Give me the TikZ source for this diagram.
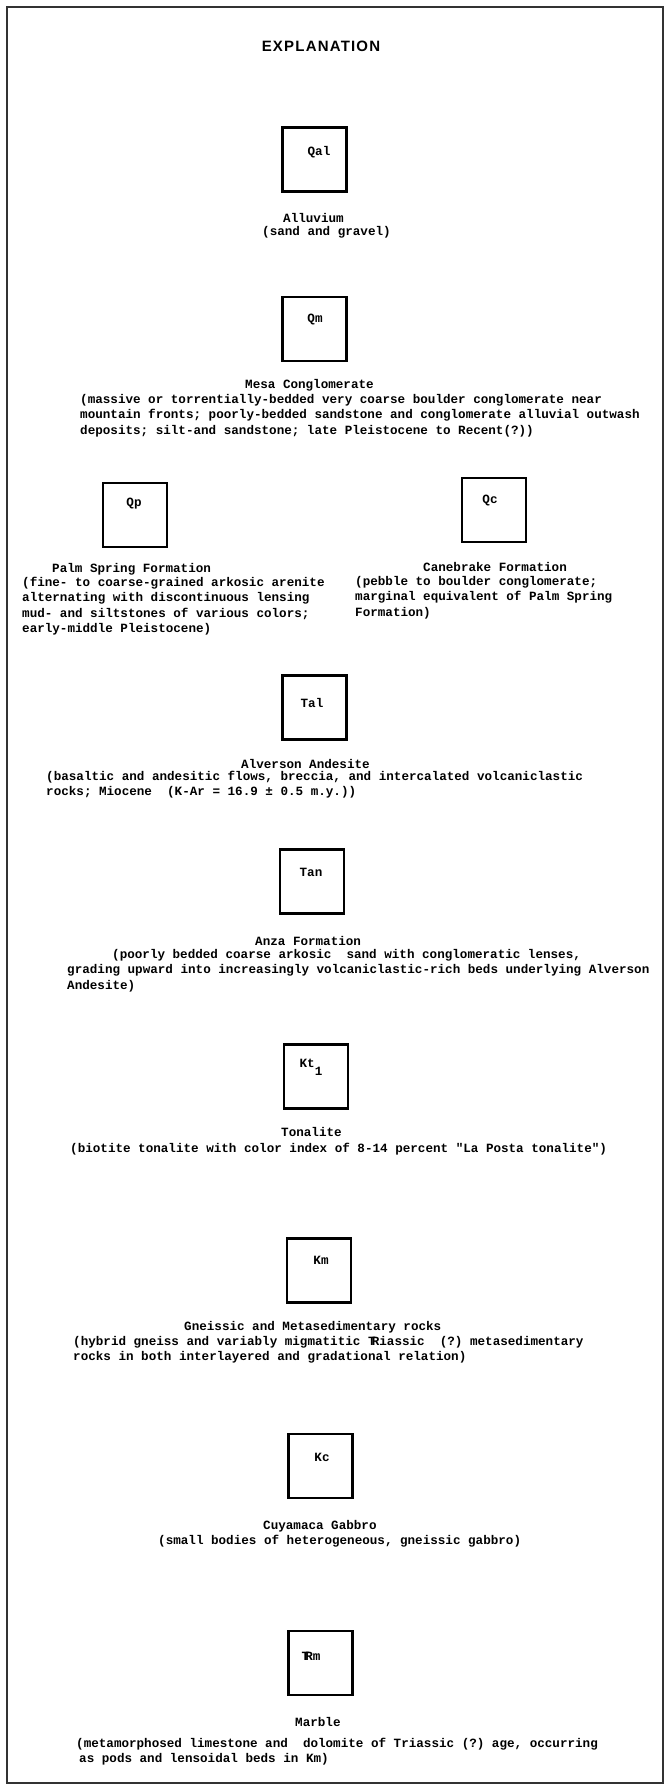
\documentclass[tikz,border=0pt]{standalone}
\usepackage{fontspec}
\usepackage{tikz}
\setmonofont{Liberation Mono}
\newfontfamily\headfont[LetterSpace=8]{Liberation Sans}
\newcommand{\TRsym}{T\kern-0.3em R}

\begin{document}
\begin{tikzpicture}[x=1pt,y=-1pt,
    unitbox/.style={draw, line width=2.4pt, minimum width=64pt, minimum height=64pt, inner sep=0pt},
    unitlabel/.style={anchor=base, font=\fontsize{12.6}{15.4}\selectfont\ttfamily\bfseries, inner sep=0pt},
    unitname/.style={anchor=west, font=\fontsize{12.6}{15.4}\selectfont\ttfamily\bfseries, inner sep=0pt},
    unitdesc/.style={anchor=north west, align=left, font=\fontsize{12.6}{15.4}\selectfont\ttfamily\bfseries, inner sep=0pt}]
      \useasboundingbox (0,0) rectangle (670,1791);
      \draw[line width=1.6pt, black!80] (7,7) rectangle (663,1783);

      \node (title) at (321,46) {\headfont\bfseries\fontsize{15}{18}\selectfont EXPLANATION};

      % Quaternary
      \node[unitbox] (qal) at (314.5,159.5) {};
      \node[unitlabel] (qallab) at (319,155) {Qal};
      \node[unitname] (qalname) at (283,218) {Alluvium};
      \node[unitname] (qaldesc) at (262,232) {(sand and gravel)};

      \node[unitbox] (qm) at (314.5,329) {};
      \node[unitlabel] (qmlab) at (315,322) {Qm};
      \node[unitname] (qmname) at (245,385) {Mesa Conglomerate};
      \node[unitdesc] (qmdesc) at (80,394) {(massive or torrentially-bedded very coarse boulder conglomerate near\\
        mountain fronts; poorly-bedded sandstone and conglomerate alluvial outwash\\
        deposits; silt-and sandstone; late Pleistocene to Recent(?))};

      \node[unitbox] (qp) at (135,515) {};
      \node[unitlabel] (qplab) at (134,506) {Qp};
      \node[unitname] (qpname) at (52,569) {Palm Spring Formation};
      \node[unitdesc] (qpdesc) at (22,577) {(fine- to coarse-grained arkosic arenite\\
        alternating with discontinuous lensing\\
        mud- and siltstones of various colors;\\
        early-middle Pleistocene)};

      \node[unitbox] (qc) at (494,510) {};
      \node[unitlabel] (qclab) at (490,503) {Qc};
      \node[unitname] (qcname) at (423,567) {Canebrake Formation};
      \node[unitdesc] (qcdesc) at (355,576) {(pebble to boulder conglomerate;\\
        marginal equivalent of Palm Spring\\
        Formation)};

      % Tertiary
      \node[unitbox] (tal) at (314.5,707.5) {};
      \node[unitlabel] (tallab) at (312,707) {Tal};
      \node[unitname] (talname) at (241,764) {Alverson Andesite};
      \node[unitdesc] (taldesc) at (46,771) {(basaltic and andesitic flows, breccia, and intercalated volcaniclastic\\
        rocks; Miocene~ (K-Ar = 16.9 ± 0.5 m.y.))};

      \node[unitbox] (tan) at (312,881.5) {};
      \node[unitlabel] (tanlab) at (311,876) {Tan};
      \node[unitname] (tanname) at (255,941) {Anza Formation};
      \node[unitdesc] (tandesc) at (67,949) {\hspace*{45pt}(poorly bedded coarse arkosic~ sand with conglomeratic lenses,\\
        grading upward into increasingly volcaniclastic-rich beds underlying Alverson\\
        Andesite)};

      % Cretaceous
      \node[unitbox] (kt) at (316,1076.5) {};
      \node[unitlabel] (ktlab) at (311,1067) {Kt\raisebox{-8pt}{1}};
      \node[unitname] (ktname) at (281,1132) {Tonalite};
      \node[unitname] (ktdesc) at (70,1149) {(biotite tonalite with color index of 8-14 percent "La Posta tonalite")};

      \node[unitbox] (km) at (319,1270.5) {};
      \node[unitlabel] (kmlab) at (321,1264) {Km};
      \node[unitname] (kmname) at (184,1327) {Gneissic and Metasedimentary rocks};
      \node[unitdesc] (kmdesc) at (73,1336) {(hybrid gneiss and variably migmatitic \TRsym iassic~ (?) metasedimentary\\
        rocks in both interlayered and gradational relation)};

      \node[unitbox] (kc) at (320.5,1466) {};
      \node[unitlabel] (kclab) at (322,1461) {Kc};
      \node[unitname] (kcname) at (263,1526) {Cuyamaca Gabbro};
      \node[unitname] (kcdesc) at (158,1541) {(small bodies of heterogeneous, gneissic gabbro)};

      % Triassic
      \node[unitbox] (trm) at (320.5,1663) {};
      \node[unitlabel] (trmlab) at (311,1660) {\TRsym m};
      \node[unitname] (trmname) at (295,1722) {Marble};
      \node[unitdesc] (trmdesc) at (76,1738) {(metamorphosed limestone and~ dolomite of Triassic (?) age, occurring\\
        \hspace*{3pt}as pods and lensoidal beds in Km)};
    \end{tikzpicture}
\end{document}
